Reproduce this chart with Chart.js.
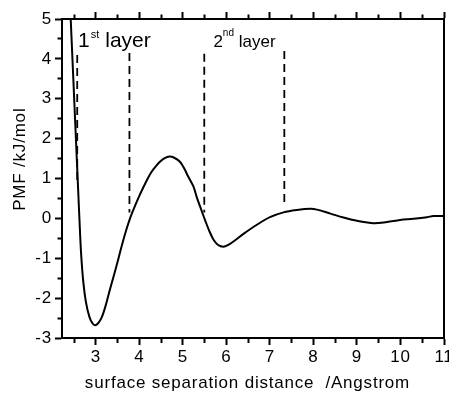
<!DOCTYPE html>
<html>
<head>
<meta charset="utf-8">
<title>PMF vs surface separation</title>
<script src="https://cdn.jsdelivr.net/npm/chart.js@4/dist/chart.umd.min.js"></script>
<style>
  html, body { margin: 0; padding: 0; background: #fff; overflow: hidden; }
  #wrap { position: relative; width: 449px; height: 396px; }
</style>
</head>
<body>
<div id="wrap"><canvas id="pmf"></canvas></div>
<script>
// Potential of mean force between two surfaces
const separation = [2.38, 2.42, 2.46, 2.50, 2.54, 2.58, 2.62, 2.66, 2.71, 2.77,
                    2.85, 2.92, 2.98, 3.05, 3.13, 3.22, 3.32, 3.42, 3.51, 3.60,
                    3.70, 3.80, 3.90, 4.00, 4.09, 4.20, 4.28, 4.38, 4.47, 4.58,
                    4.69, 4.80, 4.93, 5.03, 5.12, 5.24, 5.32, 5.40, 5.51, 5.60,
                    5.70, 5.80, 5.93, 6.05, 6.16, 6.39, 6.70, 7.00, 7.31, 7.62,
                    7.93, 8.08, 8.39, 8.69, 9.00, 9.38, 9.69, 9.99, 10.30, 10.61,
                    10.76, 11.00];
const pmf = [5.9, 5.0, 4.0, 3.0, 2.0, 1.0, 0.0, -0.9, -1.6, -2.1,
             -2.47, -2.63, -2.68, -2.63, -2.49, -2.2, -1.79, -1.4, -1.04, -0.66,
             -0.28, 0.05, 0.32, 0.57, 0.78, 1.02, 1.17, 1.31, 1.42, 1.51,
             1.55, 1.52, 1.42, 1.25, 1.05, 0.80, 0.52, 0.28, -0.05, -0.30,
             -0.53, -0.66, -0.71, -0.66, -0.58, -0.39, -0.16, 0.03, 0.15, 0.21,
             0.24, 0.22, 0.12, 0.02, -0.06, -0.12, -0.09, -0.04, -0.01, 0.03,
             0.06, 0.06];

// Solvation layer boundaries (dashed guides)
const boundaryX = [2.57, 3.77, 5.49, 7.33];
const boundaryTop = [4.10, 4.15, 4.13, 4.20];
const boundaryBottom = [0.90, 0.15, 0.15, 0.32];

// Layer captions
const layerOrdinal = ['1', '2'];
const layerSuffix = ['st', 'nd'];
const layerWord = 'layer';

// Axis ticks (labels only on whole numbers)
const xTicks = [2.5, 3, 3.5, 4, 4.5, 5, 5.5, 6, 6.5, 7, 7.5, 8, 8.5, 9, 9.5, 10, 10.5, 11];
const yTicks = [-3, -2.5, -2, -1.5, -1, -0.5, 0, 0.5, 1, 1.5, 2, 2.5, 3, 3.5, 4, 4.5, 5];

const FONT = '"Liberation Sans", Arial, Helvetica, sans-serif';
Chart.defaults.font.family = FONT;
Chart.defaults.color = '#000';

const isWhole = v => Math.abs(v - Math.round(v)) < 1e-9;

// Tick marks: whole numbers long, halves short (dash trims the mark)
function tickMarks(startsOutside) {
  return {
    display: true,
    drawOnChartArea: false,
    drawTicks: true,
    tickLength: 7,
    tickColor: '#000',
    tickWidth: 2,
    tickBorderDash: c => (c.tick && !isWhole(c.tick.value))
      ? (startsOutside ? [0, 2.5, 10] : [4, 10]) : []
  };
}
const frame = { display: true, color: '#000', width: 2 };

// Caption placement in data units, with superscript settings in px
const captionStyle = [
  { x: 2.585, y: 4.29, size: 21, supSize: 11, rise: 9.5, gap: 1.3 },
  { x: 5.70,  y: 4.31, size: 17, supSize: 10, rise: 11,  gap: 0 }
];

const captions = {
  id: 'captions',
  afterDatasetsDraw(chart) {
    const { ctx, scales: { x, y } } = chart;
    ctx.save();
    ctx.letterSpacing = '0px';
    ctx.fillStyle = '#000';
    ctx.textBaseline = 'alphabetic';
    ctx.textAlign = 'left';
    captionStyle.forEach((s, i) => {
      let px = x.getPixelForValue(s.x);
      const py = y.getPixelForValue(s.y);
      ctx.font = `${s.size}px ${FONT}`;
      ctx.fillText(layerOrdinal[i], px, py);
      px += ctx.measureText(layerOrdinal[i]).width + s.gap;
      ctx.font = `${s.supSize}px ${FONT}`;
      ctx.fillText(layerSuffix[i], px, py - s.rise);
      px += ctx.measureText(layerSuffix[i]).width;
      ctx.font = `${s.size}px ${FONT}`;
      ctx.fillText(' ' + layerWord, px, py);
    });
    ctx.restore();
  }
};

const textSpacing = {
  id: 'textSpacing',
  beforeDraw(chart) { chart.ctx.letterSpacing = '0.8px'; }
};

const curve = {
  data: separation.map((s, i) => ({ x: s, y: pmf[i] })),
  showLine: true,
  borderColor: '#000',
  borderWidth: 2,
  pointRadius: 0,
  pointHoverRadius: 0,
  tension: 0.35,
  order: 1
};

const guides = boundaryX.map((bx, i) => ({
  data: [{ x: bx, y: boundaryTop[i] }, { x: bx, y: boundaryBottom[i] }],
  showLine: true,
  borderColor: '#000',
  borderWidth: 1.8,
  borderDash: [8, 5],
  pointRadius: 0,
  pointHoverRadius: 0,
  order: 2
}));

new Chart(document.getElementById('pmf'), {
  type: 'scatter',
  data: { datasets: [curve, ...guides] },
  plugins: [textSpacing, captions],
  options: {
    responsive: true,
    maintainAspectRatio: false,
    animation: false,
    events: [],
    layout: { padding: { left: 0, right: 5, top: 0, bottom: 0 } },
    plugins: { legend: { display: false }, tooltip: { enabled: false } },
    scales: {
      x: {
        type: 'linear', position: 'bottom', min: 2.22, max: 11,
        afterBuildTicks: s => { s.ticks = xTicks.map(v => ({ value: v })); },
        afterFit: s => { s.height = 58; s.paddingLeft = 0; s.paddingRight = 0; },
        ticks: {
          autoSkip: false, maxRotation: 0, padding: 2,
          font: { size: 17 }, color: '#000',
          callback: v => isWhole(v) ? String(v) : ''
        },
        grid: tickMarks(false),
        border: frame,
        title: {
          display: true, text: 'surface separation distance  /Angstrom  ',
          font: { size: 17 }, color: '#000', padding: { top: 0, bottom: 2 }
        }
      },
      x2: {
        type: 'linear', position: 'top', min: 2.22, max: 11,
        afterBuildTicks: s => { s.ticks = xTicks.map(v => ({ value: v })); },
        afterFit: s => { s.height = 19; s.paddingLeft = 0; s.paddingRight = 0; },
        ticks: { display: false },
        grid: tickMarks(true),
        border: frame
      },
      y: {
        type: 'linear', position: 'left', min: -3, max: 5,
        afterBuildTicks: s => { s.ticks = yTicks.map(v => ({ value: v })); },
        afterFit: s => { s.width = 62; s.paddingTop = 0; s.paddingBottom = 0; },
        ticks: {
          autoSkip: false, padding: 3,
          font: { size: 17 }, color: '#000',
          callback: v => isWhole(v) ? String(v) : ''
        },
        grid: tickMarks(true),
        border: frame,
        title: {
          display: true, text: '       PMF /kJ/mol',
          font: { size: 17 }, color: '#000', padding: { top: 10, bottom: 0 }
        }
      },
      y2: {
        type: 'linear', position: 'right', min: -3, max: 5,
        afterFit: s => { s.width = 0; },
        ticks: { display: false },
        grid: { display: false },
        border: frame
      }
    }
  }
});
</script>
</body>
</html>
